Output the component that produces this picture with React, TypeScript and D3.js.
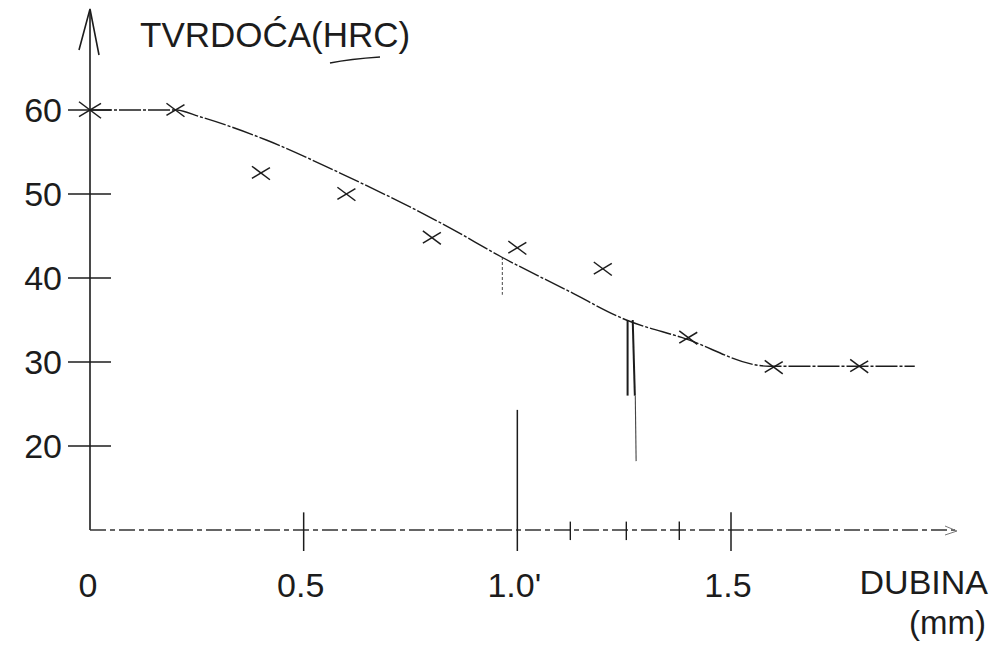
import React from "react";
import * as d3 from "d3";

// Measured hardness points (depth mm, HRC)
const depths = [0, 0.2, 0.4, 0.6, 0.8, 1.0, 1.2, 1.4, 1.6, 1.8];
const hardness = [60, 60, 52.5, 50, 44.8, 43.6, 41.1, 32.9, 29.4, 29.5];

// Hand-drawn fitted curve
const curveDepth = [0, 0.2, 0.257, 0.414, 0.568, 0.841, 0.963, 1.114, 1.255, 1.386, 1.589, 1.93];
const curveHRC = [60, 60, 59.2, 56.4, 52.9, 46.0, 42.5, 38.6, 35.0, 32.9, 29.5, 29.5];

const yTicks = [60, 50, 40, 30, 20];
const xTicks = [0.5, 1.0, 1.5];
const xTickLabels = ["0.5", "1.0'", "1.5"];
const minorXTicks = [1.124, 1.255, 1.379];

export default function App() {
  const W = 994, H = 648;
  const x = d3.scaleLinear().domain([0, 1.5]).range([90, 731]);
  const y = d3.scaleLinear().domain([10, 60]).range([530, 110]);
  const line = d3
    .line<number>()
    .x((_, i) => x(curveDepth[i]))
    .y((d) => y(d))
    .curve(d3.curveMonotoneX);
  const font = "'Liberation Sans', Arial, sans-serif";
  const ink = "#1c1c1c";
  return (
    <svg width={W} height={H} style={{ position: "absolute", left: 0, top: 0, background: "#fff" }}>
      {/* Y axis with open arrow */}
      <line x1={x(0)} y1={10} x2={x(0)} y2={y(10)} stroke={ink} strokeWidth={1.6} />
      <polyline points={`${x(0) - 11},50 ${x(0)},9 ${x(0) + 9},55`} fill="none" stroke={ink} strokeWidth={1.6} />
      {/* X axis (broken scan line) */}
      <line x1={x(0)} y1={y(10)} x2={955} y2={y(10)} stroke="#333" strokeWidth={1.3} strokeDasharray="16,4,5,4" />
      <polyline points={`945,526 957,531 945,535`} fill="none" stroke="#777" strokeWidth={1} />
      {/* Y ticks */}
      {yTicks.map((t) => (
        <g key={t}>
          <line x1={68} x2={111} y1={y(t)} y2={y(t)} stroke={ink} strokeWidth={1.3} />
          <text x={62} y={y(t) + 12} fontSize={34} fontFamily={font} fill={ink} textAnchor="end">
            {t}
          </text>
        </g>
      ))}
      {/* X ticks */}
      {xTicks.map((t, i) => (
        <g key={t}>
          <line x1={x(t)} x2={x(t)} y1={t === 1.0 ? y(24.3) : y(12.1)} y2={y(7.5)} stroke={ink} strokeWidth={1.5} />
          <text x={x(t) - 3} y={597} fontSize={34} fontFamily={font} fill={ink} textAnchor="middle">
            {xTickLabels[i]}
          </text>
        </g>
      ))}
      {minorXTicks.map((t) => (
        <line key={t} x1={x(t)} x2={x(t)} y1={y(11)} y2={y(8.8)} stroke={ink} strokeWidth={1.4} />
      ))}
      <text x={x(0) - 2} y={597} fontSize={34} fontFamily={font} fill={ink} textAnchor="middle">
        0
      </text>
      {/* Marker lines */}
      <line x1={x(0.965)} x2={x(0.965)} y1={y(42.5)} y2={y(38)} stroke="#666" strokeWidth={1.2} strokeDasharray="3,2" />
      <line x1={x(1.258)} x2={x(1.258)} y1={y(35)} y2={y(26)} stroke={ink} strokeWidth={2} />
      <line x1={x(1.27)} x2={x(1.275)} y1={y(35)} y2={y(26)} stroke={ink} strokeWidth={2} />
      <line x1={x(1.276)} x2={x(1.278)} y1={y(26)} y2={y(18.2)} stroke="#444" strokeWidth={1.1} />
      {/* Fitted curve */}
      <path d={line(curveHRC) ?? ""} fill="none" stroke={ink} strokeWidth={1.4} strokeDasharray="22,2,3,2" />
      {/* Data crosses */}
      {depths.map((dv, i) => {
        const cx = x(dv), cy = y(hardness[i]);
        const s = i === 0 ? 11 : 9;
        return (
          <g key={i} stroke={ink} strokeWidth={1.5}>
            <line x1={cx - s} y1={cy - s * 0.75} x2={cx + s} y2={cy + s * 0.75} />
            <line x1={cx - s} y1={cy + s * 0.6} x2={cx + s} y2={cy - s * 0.6} />
          </g>
        );
      })}
      {/* Titles */}
      <text x={140} y={47} fontSize={35} fontFamily={font} fill={ink}>
        TVRDOĆA(HRC)
      </text>
      <path d="M330,63 Q350,59 380,57" fill="none" stroke={ink} strokeWidth={1.6} />
      <text x={988} y={594} fontSize={34} fontFamily={font} fill={ink} textAnchor="end">
        DUBINA
      </text>
      <text x={986} y={634} fontSize={33} fontFamily={font} fill={ink} textAnchor="end">
        (mm)
      </text>
    </svg>
  );
}
